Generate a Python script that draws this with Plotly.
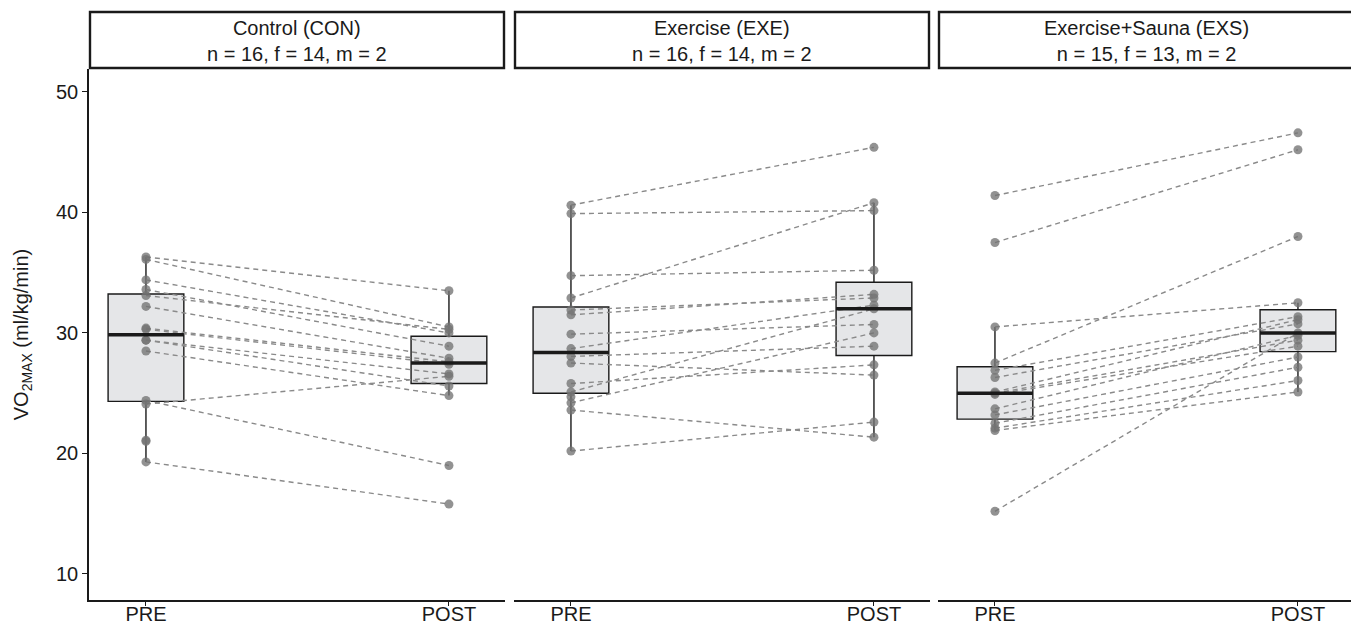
import numpy as np
import plotly.graph_objects as go

# ---------------- data ----------------
panel_titles = [
    "Control (CON)<br>n = 16, f = 14, m = 2",
    "Exercise (EXE)<br>n = 16, f = 14, m = 2",
    "Exercise+Sauna (EXS)<br>n = 15, f = 13, m = 2",
]
time_labels = ["PRE", "POST"]

con_pre = [36.3, 36.1, 34.4, 33.6, 33.1, 32.2, 30.4, 30.3, 29.4, 29.4, 28.5, 24.4, 24.1, 21.1, 21.0, 19.3]
con_post = [33.5, 30.5, 30.0, 28.9, 30.3, 27.9, 27.6, 27.4, 26.6, 25.6, 24.8, 19.0, 26.4, None, None, 15.8]

exe_pre = [40.6, 39.9, 34.75, 32.9, 31.9, 31.5, 29.9, 28.7, 28.05, 27.5, 25.8, 25.1, 24.7, 24.2, 23.6, 20.2]
exe_post = [45.4, 40.15, 35.2, 40.8, 32.9, 33.2, 30.7, 32.3, 28.9, 26.5, 27.35, 32.0, None, 30.0, 21.35, 22.6]

exs_pre = [41.4, 37.5, 30.5, 27.5, 26.9, 26.3, 25.1, 25.0, 24.9, 23.7, 23.2, 22.5, 22.1, 21.9, 15.2]
exs_post = [46.6, 45.2, 32.5, 38.0, 31.35, 30.75, 31.1, 29.4, 28.9, 29.8, 28.0, 27.15, 26.05, 25.1, 30.0]

panels = [(con_pre, con_post), (exe_pre, exe_post), (exs_pre, exs_post)]

y_ticks = [10, 20, 30, 40, 50]

# ---------------- style ----------------
FONT = "Liberation Sans, Arial, sans-serif"
OFF = 8  # page body margin
W, H = 1359 - OFF, 624 - OFF
ML, MR, MT, MB = 89 - OFF, 5, 69 - OFF, 24
plot_w = W - ML - MR
plot_h = H - MT - MB
panel_px = [(89 - OFF, 505 - OFF), (514 - OFF, 930 - OFF), (938 - OFF, 1354 - OFF)]
x_range = [0.812, 2.185]
box_w = 0.25
point_col = "rgba(115,115,115,0.78)"
line_col = "#8a8a8a"
box_fill = "#e5e6e8"


def box_stats(vals):
    v = np.array([a for a in vals if a is not None], dtype=float)
    q1, med, q3 = np.percentile(v, [25, 50, 75])
    iqr = q3 - q1
    lo = v[v >= q1 - 1.5 * iqr].min()
    hi = v[v <= q3 + 1.5 * iqr].max()
    return q1, med, q3, lo, hi


fig = go.Figure()

for i, (pre, post) in enumerate(panels):
    xa = "x" if i == 0 else f"x{i+1}"
    stats = [box_stats(pre), box_stats(post)]
    fig.add_trace(go.Box(
        x=[1, 2],
        q1=[s[0] for s in stats], median=[s[1] for s in stats], q3=[s[2] for s in stats],
        lowerfence=[s[3] for s in stats], upperfence=[s[4] for s in stats],
        width=box_w, whiskerwidth=0, fillcolor=box_fill,
        line=dict(color="#1a1a1a", width=1.4), boxpoints=False,
        xaxis=xa, yaxis="y", showlegend=False, hoverinfo="skip",
    ))
    lx, ly = [], []
    for a, b in zip(pre, post):
        if a is not None and b is not None:
            lx += [1, 2, None]
            ly += [a, b, None]
    fig.add_trace(go.Scatter(
        x=lx, y=ly, mode="lines",
        line=dict(color=line_col, width=1.4, dash="5px,4px"),
        xaxis=xa, yaxis="y", showlegend=False, hoverinfo="skip",
    ))
    px = [1] * len([a for a in pre if a is not None]) + [2] * len([b for b in post if b is not None])
    py = [a for a in pre if a is not None] + [b for b in post if b is not None]
    fig.add_trace(go.Scatter(
        x=px, y=py, mode="markers",
        marker=dict(color=point_col, size=9, line=dict(width=0)),
        xaxis=xa, yaxis="y", showlegend=False,
    ))
    mx, my = [], []
    for k, s in enumerate(stats):
        mx += [k + 1 - box_w / 2, k + 1 + box_w / 2, None]
        my += [s[1], s[1], None]
    fig.add_trace(go.Scatter(
        x=mx, y=my, mode="lines", line=dict(color="#1a1a1a", width=3.5),
        xaxis=xa, yaxis="y", showlegend=False, hoverinfo="skip",
    ))

layout = dict(
    width=W, height=H,
    margin=dict(l=ML, r=MR, t=MT, b=MB, autoexpand=False),
    paper_bgcolor="white", plot_bgcolor="white",
    font=dict(family=FONT, size=20, color="#1a1a1a"),
    showlegend=False,
)

shapes, annotations = [], []
strip_top = 1 + (MT - (12 - OFF)) / plot_h
for i, (p0, p1) in enumerate(panel_px):
    d0 = (p0 - ML) / plot_w
    d1 = (p1 - ML) / plot_w
    key = "xaxis" if i == 0 else f"xaxis{i+1}"
    layout[key] = dict(
        domain=[d0, d1], range=x_range, anchor="y",
        tickvals=[1, 2], ticktext=time_labels,
        showline=True, linecolor="#1a1a1a", linewidth=1.6,
        ticks="outside", ticklen=4, tickwidth=1.4, tickcolor="#1a1a1a",
        showgrid=False, zeroline=False, automargin=False,
        tickfont=dict(size=20, color="#1a1a1a"),
    )
    shapes.append(dict(type="rect", xref="paper", yref="paper",
                       x0=d0 + 1 / plot_w, x1=d1 - 1 / plot_w, y0=1.0 + 1 / plot_h, y1=strip_top,
                       line=dict(color="#1a1a1a", width=2.4), fillcolor="white", layer="above"))
    annotations.append(dict(text=panel_titles[i], xref="paper", yref="paper",
                            x=(d0 + d1) / 2, y=(1 + strip_top) / 2, showarrow=False,
                            xanchor="center", yanchor="middle",
                            font=dict(size=20, color="#1a1a1a", family=FONT)))

layout["yaxis"] = dict(
    range=[7.84, 51.9], tickvals=y_ticks, domain=[0, 1], anchor="x",
    showline=True, linecolor="#1a1a1a", linewidth=1.6,
    ticks="outside", ticklen=5, tickwidth=1.4, tickcolor="#1a1a1a",
    showgrid=False, zeroline=False, automargin=False,
    tickfont=dict(size=20, color="#1a1a1a"),
    title=dict(text="VO<sub>2MAX</sub> (ml/kg/min)", standoff=22,
               font=dict(size=20, color="#1a1a1a")),
)
layout["shapes"] = shapes
layout["annotations"] = annotations
fig.update_layout(**layout)

try:
    fig.update_xaxes(ticklabelstandoff=-9)
except Exception:
    fig.update_xaxes(tickfont=dict(size=18))

fig.write_html("out.html")
